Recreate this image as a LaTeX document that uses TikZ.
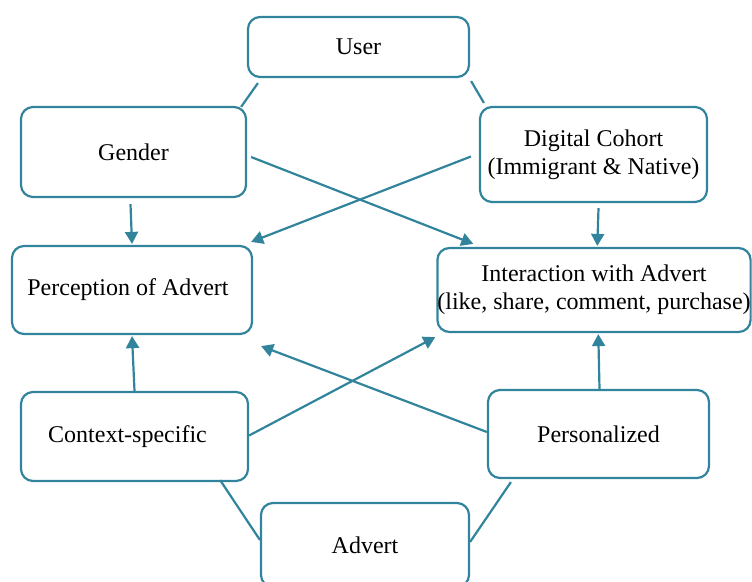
\documentclass[tikz,border=0pt]{standalone}
\usepackage{fontspec}
\setmainfont{Liberation Serif}
\usetikzlibrary{calc,arrows.meta}
\definecolor{teal1}{HTML}{31849B}
\tikzset{
  box/.style={draw=teal1, line width=2.2pt, rounded corners=12pt, align=center,
    font=\fontsize{24}{28}\selectfont, inner sep=0pt},
  conn/.style={draw=teal1, line width=2.2pt},
  arr/.style={conn, -{Triangle[length=12pt,width=13pt]}}
}
\begin{document}
\begin{tikzpicture}[x=1pt,y=-1pt]
\useasboundingbox (0,0) rectangle (752,581);
\clip (0,0) rectangle (752,581);
\node[box, minimum width=221pt, minimum height=60pt] (user) at (358.5,47) {User};
\node[box, minimum width=225pt, minimum height=90pt] (gender) at (133.5,152) {Gender};
\node[box, minimum width=227pt, minimum height=95pt] (digital) at (593.5,154.5) {Digital Cohort\\(Immigrant \& Native)};
\node[box, minimum width=240pt, minimum height=88pt] (perc) at (132,290) {Perception of Advert\hspace*{8pt}};
\node[box, minimum width=312pt, minimum height=84pt] (inter) at (594,290) {Interaction with Advert\\(like, share, comment, purchase)};
\node[box, minimum width=227pt, minimum height=89pt] (context) at (134.5,436.5) {Context-specific\hspace*{14pt}};
\node[box, minimum width=221pt, minimum height=88pt] (pers) at (598.5,434) {Personalized};
\node[box, minimum width=208pt, minimum height=84pt] (advert) at (365,545) {Advert};

\draw[conn] ($(user.south west)+(11,5)$) -- ($(gender.north east)+(-6,1)$);
\draw[conn] ($(user.south east)+(1,3)$) -- ($(digital.north west)+(5,-3)$);
\draw[arr] ($(gender.south)+(-3,6)$) -- ($(perc.north)+(0,-1)$);
\draw[arr] ($(gender.east)+(4,5)$) -- ($(inter.north west)+(37,-3)$);
\draw[arr] ($(digital.west)+(-8,2)$) -- ($(perc.north east)+(-2,-3)$);
\draw[arr] ($(digital.south)+(5,5)$) -- ($(inter.north west)+(161,-1)$);
\draw[arr] (context.north) -- ($(perc.south)+(0,1)$);
\draw[arr] ($(context.east)+(0,-1)$) -- ($(inter.south west)+(-1,4)$);
\draw[arr] ($(pers.west)+(0,-2)$) -- ($(perc.south east)+(8,11)$);
\draw[arr] ($(pers.north)+(1,0)$) -- ($(inter.south west)+(162,1)$);
\draw[conn] ($(context.south east)+(-29,-2)$) -- ($(advert.north west)+(0,38)$);
\draw[conn] ($(pers.south west)+(24,3)$) -- ($(advert.north east)+(0,40)$);
\end{tikzpicture}
\end{document}
